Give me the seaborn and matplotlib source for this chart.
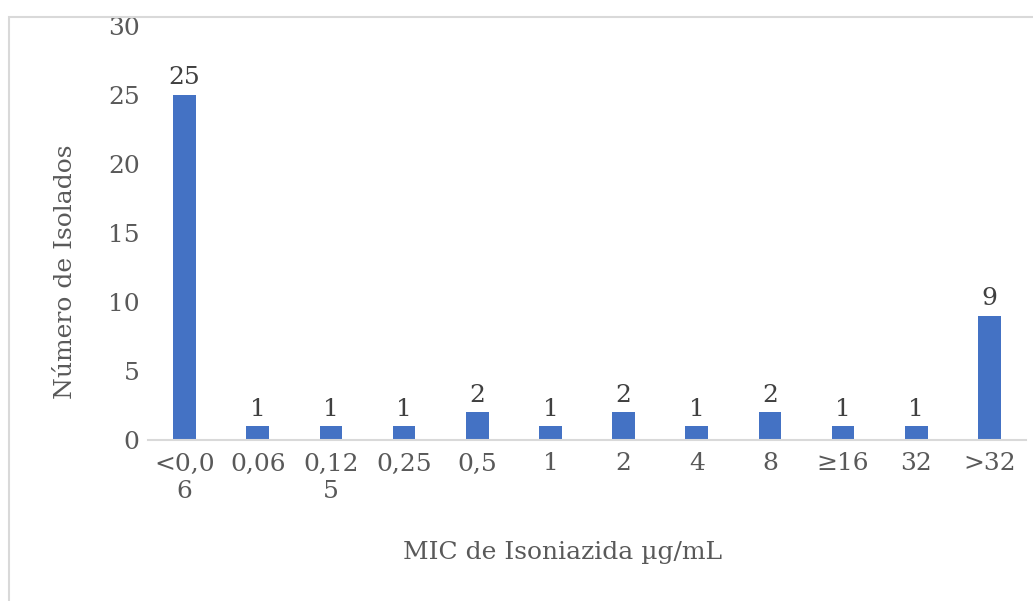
import matplotlib
matplotlib.use("Agg")
import matplotlib.pyplot as plt
from matplotlib.patches import Rectangle
import seaborn as sns
import pandas as pd

categories = ["<0,0\n6", "0,06", "0,12\n5", "0,25", "0,5", "1", "2", "4", "8", "≥16", "32", ">32"]
counts = [25, 1, 1, 1, 2, 1, 2, 1, 2, 1, 1, 9]

sns.set_theme(style="white")
plt.rcParams["font.family"] = ["DejaVu Serif"]

text_color = "#595959"
bar_color = "#4472C4"
fs = 18

W, H = 1033, 601
fig = plt.figure(figsize=(W / 100, H / 100), dpi=100)
ax = fig.add_axes([148 / W, 1 - 440 / H, (1026 - 148) / W, (440 - 26) / H])

df = pd.DataFrame({"MIC": categories, "n": counts})
sns.barplot(data=df, x="MIC", y="n", color=bar_color, width=0.31, saturation=1,
            linewidth=0, ax=ax)

ax.set_ylim(0, 30)
ax.set_yticks(range(0, 31, 5))
ax.set_xlim(-0.5, len(categories) - 0.5)
ax.tick_params(axis="both", length=0, labelsize=fs, colors=text_color)
ax.tick_params(axis="y", pad=6)
ax.tick_params(axis="x", pad=9)
for lbl in ax.get_xticklabels():
    lbl.set_linespacing(1.25)
    lbl.set_verticalalignment("top")

for s in ["top", "right", "left"]:
    ax.spines[s].set_visible(False)
ax.spines["bottom"].set_color("#D9D9D9")
ax.spines["bottom"].set_linewidth(1.5)

for i, v in enumerate(counts):
    ax.annotate(str(v), (i, v), xytext=(0, 4), textcoords="offset points",
                ha="center", va="bottom", fontsize=fs, color="#404040")

ax.set_xlabel("MIC de Isoniazida µg/mL", fontsize=fs, color=text_color, va="center")
ax.xaxis.set_label_coords((563 - 148) / 878, (440 - 552) / 414)
ax.set_ylabel("Número de Isolados", fontsize=fs, color=text_color, va="center")
ax.yaxis.set_label_coords((66 - 148) / 878, (440 - 272) / 414)

# light outline of the chart area
fig.patches.append(Rectangle((8.5 / W, -0.1), 1.2, 1 - 16.5 / H + 0.1,
                             transform=fig.transFigure, fill=False,
                             edgecolor="#D9D9D9", linewidth=1.5))

fig.savefig("out.png", dpi=100)
